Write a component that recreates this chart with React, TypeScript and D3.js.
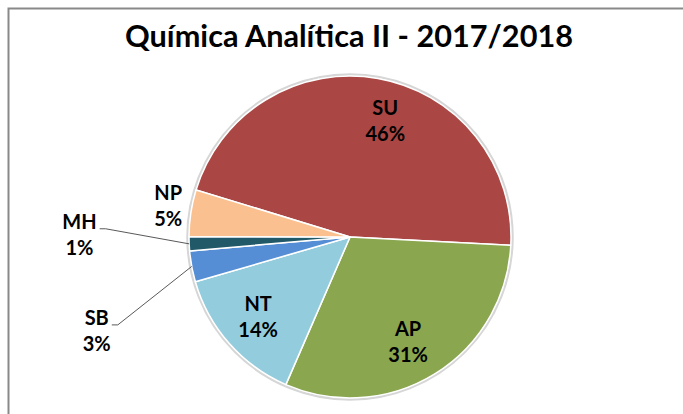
import * as d3 from 'd3';
import React, { useEffect, useRef } from 'react';

// Shares (percent of students)
const categories = ['SU', 'AP', 'NT', 'SB', 'MH', 'NP'];
const values = [46.1, 30.7, 14.0, 3.1, 1.4, 4.7];
const colors = ['#AA4744', '#8AA64F', '#93CDDD', '#558ED5', '#215968', '#FAC090'];
const title = 'Química Analítica II - 2017/2018';

// Excel "angle of first slice"
const FIRST_SLICE_DEG = 287;

// label placement: angle nudge (deg) and radius factor, leader line or not
const labelPlacement: Record<string, { da: number; k: number; leader: boolean }> = {
  SU: { da: 7, k: 0.75, leader: false },
  AP: { da: 3, k: 0.75, leader: false },
  NT: { da: 0, k: 0.76, leader: false },
  SB: { da: -10, k: 1.68, leader: true },
  MH: { da: 2.7, k: 1.68, leader: true },
  NP: { da: 1, k: 1.145, leader: false },
};

const App: React.FC = () => {
  const svgRef = useRef<SVGSVGElement>(null);
  const width = 683;
  const height = 414;

  useEffect(() => {
    if (!svgRef.current) return;
    const svg = d3.select(svgRef.current);
    svg.selectAll('*').remove();

    const cx = 350;
    const cy = 237;
    const r = 161;
    const font = 'Lato, "Open Sans", sans-serif';

    // chart frame (runs off the right and bottom of the screenshot)
    svg.append('rect')
      .attr('x', 8.5)
      .attr('y', 8.5)
      .attr('width', width + 20)
      .attr('height', height + 20)
      .attr('fill', '#fff')
      .attr('stroke', '#898989')
      .attr('stroke-width', 2);

    svg.append('text')
      .attr('x', 349)
      .attr('y', 47)
      .attr('text-anchor', 'middle')
      .attr('textLength', 448)
      .attr('lengthAdjust', 'spacingAndGlyphs')
      .style('font-family', font)
      .style('font-weight', 'bold')
      .style('font-size', '30px')
      .attr('fill', '#000')
      .text(title);

    const data = categories.map((c, i) => ({ cat: c, value: values[i], color: colors[i] }));
    const total = d3.sum(values);
    const start = (FIRST_SLICE_DEG * Math.PI) / 180;

    const pie = d3.pie<typeof data[number]>()
      .value(d => d.value)
      .sort(null)
      .startAngle(start)
      .endAngle(start + 2 * Math.PI);

    const arcs = pie(data);
    const arc = d3.arc<d3.PieArcDatum<typeof data[number]>>()
      .innerRadius(0)
      .outerRadius(r);

    const g = svg.append('g').attr('transform', `translate(${cx},${cy})`);

    // soft edge shadow
    g.append('circle')
      .attr('r', r + 1.5)
      .attr('fill', 'none')
      .attr('stroke', '#d6d6d6')
      .attr('stroke-width', 2.5);

    g.selectAll('.slice')
      .data(arcs)
      .join('path')
      .attr('class', 'slice')
      .attr('d', arc)
      .attr('fill', d => d.data.color)
      .attr('stroke', '#fff')
      .attr('stroke-width', 1.5)
      .attr('stroke-linejoin', 'round');

    const labels = svg.append('g');

    arcs.forEach(d => {
      const p = labelPlacement[d.data.cat];
      const mid = (d.startAngle + d.endAngle) / 2;
      const a = mid + (p.da * Math.PI) / 180;
      const x = cx + p.k * r * Math.sin(a);
      const y = cy - p.k * r * Math.cos(a);
      const pct = Math.round((d.data.value / total) * 100) + '%';

      const t = labels.append('text')
        .attr('text-anchor', 'middle')
        .style('font-family', font)
        .style('font-weight', 'bold')
        .style('font-size', '20px')
        .attr('fill', '#000');
      const l1 = t.append('tspan').attr('x', x).attr('y', y - 6.5).text(d.data.cat);
      t.append('tspan').attr('x', x).attr('y', y + 19.5).text(pct);

      if (p.leader) {
        const w = (l1.node() as SVGTextContentElement).getComputedTextLength();
        const ex = cx + r * Math.sin(mid);
        const ey = cy - r * Math.cos(mid);
        const lx = x + w / 2 + 3;
        const ly = y - 7;
        labels.insert('path', ':first-child')
          .attr('d', `M${ex},${ey}L${lx + 6},${ly}L${lx},${ly}`)
          .attr('fill', 'none')
          .attr('stroke', '#595959')
          .attr('stroke-width', 1);
      }
    });
  }, []);

  return (
    <div style={{ position: 'absolute', left: 0, top: 0, width, height, overflow: 'hidden', background: '#fff' }}>
      <svg ref={svgRef} width={width} height={height} />
    </div>
  );
};

export default App;
